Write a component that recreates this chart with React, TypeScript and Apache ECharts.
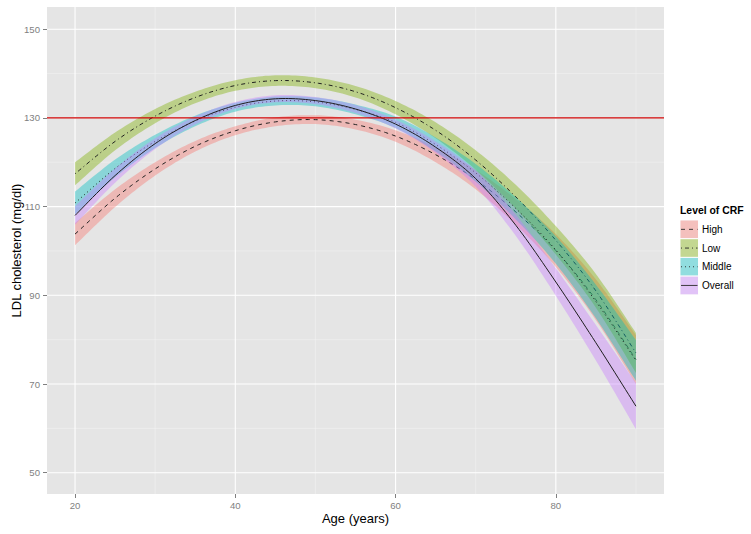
import React, { useEffect, useRef } from 'react';
import * as echarts from 'echarts';

// ---- data ----
const ages = [20, 25, 30, 35, 40, 45, 50, 55, 60, 65, 70, 75, 80, 85, 90];

const highFit = [103.8, 111.9, 118.5, 123.6, 127.1, 129.1, 129.6, 128.5, 125.9, 121.7, 116.1, 108.8, 100.1, 89.0, 75.5];
const highSe = [2.5, 2.0, 1.5, 1.2, 1.0, 1.0, 1.0, 1.1, 1.3, 1.7, 2.2, 2.9, 3.7, 4.6, 5.5];

const lowFit = [117.4, 124.7, 130.4, 134.6, 137.3, 138.4, 137.9, 135.9, 132.3, 127.2, 120.5, 112.2, 102.4, 91.0, 77.0];
const lowSe = [2.6, 2.0, 1.6, 1.3, 1.2, 1.2, 1.2, 1.3, 1.5, 1.8, 2.2, 2.7, 3.2, 3.8, 4.5];

const middleFit = [110.8, 118.6, 124.7, 129.3, 132.4, 133.8, 133.6, 131.9, 129.0, 124.0, 117.6, 109.6, 100.2, 88.6, 75.3];
const middleSe = [2.6, 2.0, 1.5, 1.2, 1.0, 1.0, 1.0, 1.1, 1.3, 1.6, 2.0, 2.5, 3.1, 3.8, 4.6];

const overallFit = [108.0, 117.0, 124.2, 129.4, 132.8, 134.3, 133.9, 132.0, 128.6, 123.4, 116.3, 105.8, 93.0, 79.3, 65.0];
const overallSe = [2.1, 1.6, 1.2, 0.9, 0.8, 0.8, 0.8, 0.9, 1.0, 1.3, 1.8, 2.4, 3.1, 4.0, 5.2];

const groupNames = ['High', 'Low', 'Middle', 'Overall'];
const xTicks = [20, 40, 60, 80];
const xMinorTicks = [30, 50, 70, 90];
const yTicks = [50, 70, 90, 110, 130, 150];
const yMinorTicks = [60, 80, 100, 120, 140];
const referenceLevel = 130;

const X_MIN = 16.5;
const X_MAX = 93.5;
const Y_MIN = 45.2;
const Y_MAX = 155;

const FONT = '"Liberation Sans", Arial, Helvetica, sans-serif';

const groupStyles: Record<string, { rgb: string; dash: number[] | null }> = {
  High: { rgb: '248,118,109', dash: [4, 4] },
  Low: { rgb: '124,174,0', dash: [1, 3, 4, 3] },
  Middle: { rgb: '0,191,196', dash: [1, 3] },
  Overall: { rgb: '199,124,255', dash: null },
};

const groupData: Record<string, { fit: number[]; se: number[] }> = {
  High: { fit: highFit, se: highSe },
  Low: { fit: lowFit, se: lowSe },
  Middle: { fit: middleFit, se: middleSe },
  Overall: { fit: overallFit, se: overallSe },
};

const FILL_ALPHA = 0.4;

// Catmull-Rom interpolation in pixel space (smooth curve through the points)
function densify(pts: number[][], n = 12): number[][] {
  const out: number[][] = [];
  for (let i = 0; i < pts.length - 1; i++) {
    const p0 = pts[i - 1] || pts[i];
    const p1 = pts[i];
    const p2 = pts[i + 1];
    const p3 = pts[i + 2] || pts[i + 1];
    for (let k = 0; k < n; k++) {
      const t = k / n;
      const t2 = t * t;
      const t3 = t2 * t;
      const f = (a: number, b: number, c: number, d: number) =>
        0.5 * (2 * b + (-a + c) * t + (2 * a - 5 * b + 4 * c - d) * t2 + (-a + 3 * b - 3 * c + d) * t3);
      out.push([f(p0[0], p1[0], p2[0], p3[0]), f(p0[1], p1[1], p2[1], p3[1])]);
    }
  }
  out.push(pts[pts.length - 1]);
  return out;
}

export default function App() {
  const ref = useRef<HTMLDivElement>(null);

  useEffect(() => {
    if (!ref.current) return;
    const chart = echarts.init(ref.current, null, { renderer: 'svg' });

    const gridSeries: any[] = [];
    const vline = (x: number, color: string, width: number) => ({
      type: 'line',
      data: [[x, Y_MIN], [x, Y_MAX]],
      symbol: 'none',
      silent: true,
      z: 1,
      lineStyle: { color, width },
    });
    const hline = (y: number, color: string, width: number, z = 1) => ({
      type: 'line',
      data: [[X_MIN, y], [X_MAX, y]],
      symbol: 'none',
      silent: true,
      z,
      lineStyle: { color, width },
    });
    xMinorTicks.forEach((x) => gridSeries.push(vline(x, '#F2F2F2', 0.6)));
    yMinorTicks.forEach((y) => gridSeries.push(hline(y, '#F2F2F2', 0.6)));
    xTicks.forEach((x) => gridSeries.push(vline(x, '#FFFFFF', 1.1)));
    yTicks.forEach((y) => gridSeries.push(hline(y, '#FFFFFF', 1.1)));

    const dataSeries: any[] = [];
    groupNames.forEach((name) => {
      const { fit, se } = groupData[name];
      const st = groupStyles[name];
      // confidence band
      dataSeries.push({
        type: 'custom',
        name: name + ' band',
        silent: true,
        z: 2,
        data: ages.map((a, i) => [a, fit[i] - se[i], fit[i] + se[i]]),
        encode: { x: 0, y: [1, 2] },
        renderItem: (params: any, api: any) => {
          if (params.dataIndex !== 0) return null;
          const upper = ages.map((a, i) => api.coord([a, fit[i] + se[i]]));
          const lower = ages.map((a, i) => api.coord([a, fit[i] - se[i]]));
          const pts = densify(upper).concat(densify(lower).reverse());
          return {
            type: 'polygon',
            shape: { points: pts },
            style: { fill: `rgba(${st.rgb},${FILL_ALPHA})`, stroke: 'none' },
          };
        },
      });
      // fitted line
      dataSeries.push({
        type: 'custom',
        name,
        silent: true,
        z: 2,
        data: ages.map((a, i) => [a, fit[i]]),
        encode: { x: 0, y: 1 },
        renderItem: (params: any, api: any) => {
          if (params.dataIndex !== 0) return null;
          const pts = densify(ages.map((a, i) => api.coord([a, fit[i]])));
          return {
            type: 'polyline',
            shape: { points: pts },
            style: {
              stroke: '#1f1f1f',
              lineWidth: 1,
              fill: 'none',
              lineDash: st.dash,
            },
          };
        },
      });
    });

    const refSeries = hline(referenceLevel, '#CC0000', 1.2, 5);

    // legend graphic
    const legendX = 680;
    const keyTop = 220;
    const keyH = 18.7;
    const keyW = 18.5;
    const legendEls: any[] = [
      {
        type: 'text',
        left: legendX,
        top: 205,
        style: { text: 'Level of CRF', font: `bold 10.4px ${FONT}`, fill: '#000' },
      },
    ];
    groupNames.forEach((name, i) => {
      const st = groupStyles[name];
      const y0 = keyTop + i * keyH;
      legendEls.push({
        type: 'rect',
        shape: { x: legendX, y: y0, width: keyW, height: keyH },
        style: { fill: '#F2F2F2', stroke: '#FFFFFF', lineWidth: 0.8 },
      });
      legendEls.push({
        type: 'rect',
        shape: { x: legendX + 0.5, y: y0 + 0.5, width: keyW - 1, height: keyH - 1 },
        style: { fill: `rgba(${st.rgb},${FILL_ALPHA})` },
      });
      legendEls.push({
        type: 'line',
        shape: { x1: legendX + 1, y1: y0 + keyH / 2, x2: legendX + keyW - 1, y2: y0 + keyH / 2 },
        style: {
          stroke: '#2a2a2a',
          lineWidth: 0.9,
          lineDash: st.dash,
        },
      });
      legendEls.push({
        type: 'text',
        x: legendX + keyW + 3.5,
        y: y0 + keyH / 2,
        style: {
          text: name,
          font: `10px ${FONT}`,
          fill: '#000',
          verticalAlign: 'middle',
          align: 'left',
        },
      });
    });

    const option: any = {
      animation: false,
      backgroundColor: '#FFFFFF',
      grid: {
        left: 47,
        right: 87,
        top: 7,
        bottom: 40,
        show: true,
        backgroundColor: '#E5E5E5',
        borderWidth: 0,
        containLabel: false,
        outerBoundsMode: 'none',
      },
      xAxis: {
        type: 'value',
        min: X_MIN,
        max: X_MAX,
        axisLine: { show: false },
        axisTick: {
          show: true,
          customValues: xTicks,
          length: 4,
          lineStyle: { color: '#7F7F7F', width: 1 },
        },
        axisLabel: {
          customValues: xTicks,
          color: '#7F7F7F',
          fontSize: 9.6,
          fontFamily: FONT,
          margin: 6,
        },
        splitLine: { show: false },
        name: 'Age (years)',
        nameLocation: 'middle',
        nameGap: 18,
        nameMoveOverlap: false,
        nameTextStyle: { fontSize: 13, color: '#000', fontFamily: FONT },
      },
      yAxis: {
        type: 'value',
        min: Y_MIN,
        max: Y_MAX,
        axisLine: { show: false },
        axisTick: {
          show: true,
          customValues: yTicks,
          length: 4,
          lineStyle: { color: '#7F7F7F', width: 1 },
        },
        axisLabel: {
          customValues: yTicks,
          color: '#7F7F7F',
          fontSize: 9.6,
          fontFamily: FONT,
          margin: 7,
        },
        splitLine: { show: false },
        name: 'LDL cholesterol (mg/dl)',
        nameLocation: 'middle',
        nameGap: 24,
        nameRotate: 90,
        nameMoveOverlap: false,
        nameTextStyle: { fontSize: 13, color: '#000', fontFamily: FONT },
      },
      series: [...gridSeries, ...dataSeries, refSeries],
      graphic: legendEls,
    };

    chart.setOption(option);
    return () => chart.dispose();
  }, []);

  return (
    <div
      ref={ref}
      style={{ position: 'absolute', left: 0, top: 0, width: 751, height: 534 }}
    />
  );
}
